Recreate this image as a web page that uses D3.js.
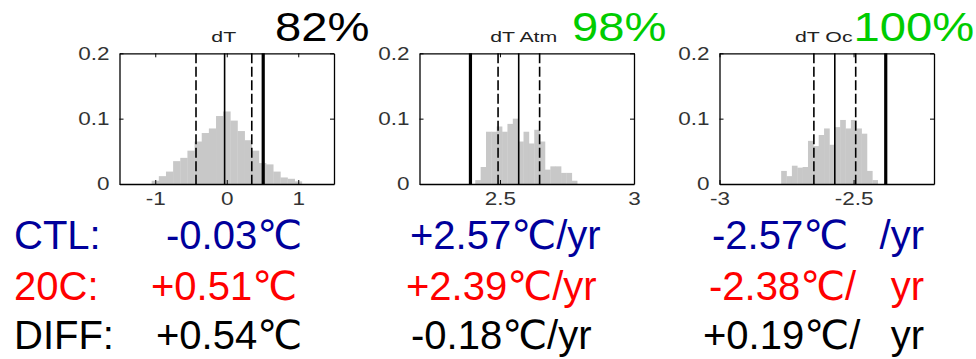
<!DOCTYPE html>
<html><head><meta charset="utf-8">
<script src="https://cdn.jsdelivr.net/npm/d3@7"></script>
<style>
html,body{margin:0;padding:0;background:#fff;}
svg{display:block;}
</style></head><body>
<svg id="chart" width="976" height="359"></svg>
<script>
// Panel titles and agreement percentages
const panelTitles = ["dT", "dT Atm", "dT Oc"];
const percentLabels = ["82%", "98%", "100%"];
const percentColors = ["#000000", "#00cc00", "#00cc00"];

// Axis extents and tick values for each panel
const xDomains = [[-1.5, 1.5], [2.2, 3], [-3, -2.2]];
const xTicks = [[-1, 0, 1], [2.5, 3], [-3, -2.5]];
const yDomain = [0, 0.2];
const yTicks = [0, 0.1, 0.2];

// Histogram bins: first lower edge, bin width and bar frequencies
const binStart = [-1.05, 2.408, -2.77];
const binWidth = [0.1, 0.02, 0.02];
const freqDT = [0.005, 0.012, 0.019, 0.035, 0.040, 0.051, 0.065, 0.078, 0.085, 0.104, 0.111,
                0.097, 0.081, 0.067, 0.051, 0.032, 0.030, 0.019, 0.010, 0.008, 0.004];
const freqAtm = [0.006, 0.026, 0.080, 0.080, 0.088, 0.080, 0.092, 0.100, 0.065, 0.080,
                 0.062, 0.083, 0.065, 0.022, 0.027, 0.027, 0.017, 0.017, 0.005];
const freqOc = [0.020, 0.012, 0.028, 0.025, 0.026, 0.066, 0.058, 0.075, 0.085, 0.060,
                0.087, 0.098, 0.085, 0.098, 0.085, 0.077, 0.020, 0.006];
const frequencies = [freqDT, freqAtm, freqOc];

// CTL mean, CTL spread bounds and 20C value per panel
const ctlMean = [-0.03, 2.57, -2.57];
const ctlLow = [-0.43, 2.493, -2.648];
const ctlHigh = [0.35, 2.648, -2.492];
const c20Value = [0.51, 2.39, -2.38];

// Summary rows below the panels
const rowLabels = ["CTL:", "20C:", "DIFF:"];
const rowColors = ["#00009b", "#ff0000", "#000000"];
const attachedUnits = [["", "", ""], ["/yr", "/yr", "/yr"], ["", "/", "/"]];
const detachedUnits = [["", "", ""], ["", "", ""], ["/yr", "yr", "yr"]];

// ---- layout ----
const svg = d3.select("#chart");
const panelLeft = [119.5, 419.5, 719.5];
const panelW = 214.5;
const plotTop = 53.3, plotBottom = 184;
const smallFont = "'Liberation Sans', Arial, Helvetica, sans-serif";
const bigFont = "'Liberation Sans', Arial, Helvetica, sans-serif";
const degFont = "'DejaVu Sans', sans-serif";

const ys = d3.scaleLinear().domain(yDomain).range([plotBottom, plotTop]);

function stretchText(sel, sx) {
  sel.each(function () {
    const t = d3.select(this);
    const x = +t.attr("x") || 0, y = +t.attr("y") || 0;
    t.attr("x", 0).attr("y", 0).attr("transform", `translate(${x},${y}) scale(${sx},1)`);
  });
}

panelTitles.forEach((title, p) => {
  const x0 = panelLeft[p];
  const xs = d3.scaleLinear().domain(xDomains[p]).range([x0, x0 + panelW]);
  const g = svg.append("g");

  // histogram bars
  g.append("g").selectAll("rect")
    .data(frequencies[p])
    .join("rect")
    .attr("x", (d, i) => xs(binStart[p] + i * binWidth[p]))
    .attr("width", (d, i) => xs(binStart[p] + (i + 1) * binWidth[p]) - xs(binStart[p] + i * binWidth[p]) + 0.3)
    .attr("y", d => ys(d))
    .attr("height", d => ys(0) - ys(d))
    .attr("fill", "#c8c8c8");

  // reference lines: CTL spread (dashed), CTL mean (thin), 20C (thick)
  const lines = [
    { v: ctlLow[p], w: 1.6, dash: "10,3.5" },
    { v: ctlHigh[p], w: 1.6, dash: "10,3.5" },
    { v: ctlMean[p], w: 1.6, dash: null },
    { v: c20Value[p], w: 3.2, dash: null }
  ];
  g.append("g").selectAll("line")
    .data(lines)
    .join("line")
    .attr("x1", d => xs(d.v)).attr("x2", d => xs(d.v))
    .attr("y1", plotTop).attr("y2", plotBottom)
    .attr("stroke", "#000")
    .attr("stroke-width", d => d.w)
    .attr("stroke-dasharray", d => d.dash);

  // axes with inward ticks on all four sides
  const axB = g.append("g").attr("transform", `translate(0,${plotBottom})`)
    .call(d3.axisBottom(xs).tickValues(xTicks[p]).tickSizeInner(-4).tickSizeOuter(0)
      .tickPadding(8).tickFormat(d => String(d)));
  const axL = g.append("g").attr("transform", `translate(${x0},0)`)
    .call(d3.axisLeft(ys).tickValues(yTicks).tickSizeInner(-4).tickSizeOuter(0)
      .tickPadding(10).tickFormat(d => String(d)));
  g.append("g").attr("transform", `translate(0,${plotTop})`)
    .call(d3.axisTop(xs).tickValues(xTicks[p]).tickSizeInner(-4).tickSizeOuter(0).tickFormat(() => ""));
  g.append("g").attr("transform", `translate(${x0 + panelW},0)`)
    .call(d3.axisRight(ys).tickValues(yTicks).tickSizeInner(-4).tickSizeOuter(0).tickFormat(() => ""));

  g.selectAll(".domain").attr("stroke", "#000").attr("stroke-width", 1.3);
  g.selectAll(".tick line").attr("stroke", "#000").attr("stroke-width", 1);
  [axB, axL].forEach(ax => {
    ax.selectAll("text")
      .attr("font-family", smallFont)
      .attr("font-size", 18)
      .attr("fill", "#333");
    stretchText(ax.selectAll("text"), 1.25);
  });

  // panel title
  g.append("text")
    .attr("transform", `translate(${x0 + panelW / 2 - 3},42) scale(1.42,1)`)
    .attr("text-anchor", "middle")
    .attr("font-family", smallFont)
    .attr("font-size", 15)
    .attr("fill", "#222")
    .text(title);
});

// agreement percentages
const pctX = [275, 572, 853.5];
percentLabels.forEach((lab, p) => {
  svg.append("text")
    .attr("transform", `translate(${pctX[p]},41) scale(1.18,1)`)
    .attr("font-family", bigFont)
    .attr("font-size", 40)
    .attr("fill", percentColors[p])
    .text(lab);
});

// summary rows
const rowY = [249, 300, 349];
const valueX = [[166, 410, 712], [151, 406, 709], [156, 411, 703]];
const fmt = v => (v < 0 ? "-" : "+") + Math.abs(v).toFixed(2);
const rowValues = [ctlMean, c20Value, c20Value.map((v, i) => v - ctlMean[i])];

rowLabels.forEach((lab, r) => {
  svg.append("text")
    .attr("x", 14).attr("y", rowY[r])
    .attr("font-family", bigFont).attr("font-size", 40)
    .attr("fill", rowColors[r])
    .text(lab);
  rowValues[r].forEach((v, c) => {
    const t = svg.append("text")
      .attr("x", valueX[r][c]).attr("y", rowY[r])
      .attr("font-family", bigFont).attr("font-size", 40)
      .attr("fill", rowColors[r]);
    t.append("tspan").text(fmt(v));
    t.append("tspan").attr("font-family", degFont).text("\u2103");
    if (attachedUnits[c][r]) t.append("tspan").text(attachedUnits[c][r]);
    if (detachedUnits[c][r]) {
      svg.append("text")
        .attr("x", 924).attr("y", rowY[r])
        .attr("text-anchor", "end")
        .attr("font-family", bigFont).attr("font-size", 40)
        .attr("fill", rowColors[r])
        .text(detachedUnits[c][r]);
    }
  });
});
</script>
</body></html>
